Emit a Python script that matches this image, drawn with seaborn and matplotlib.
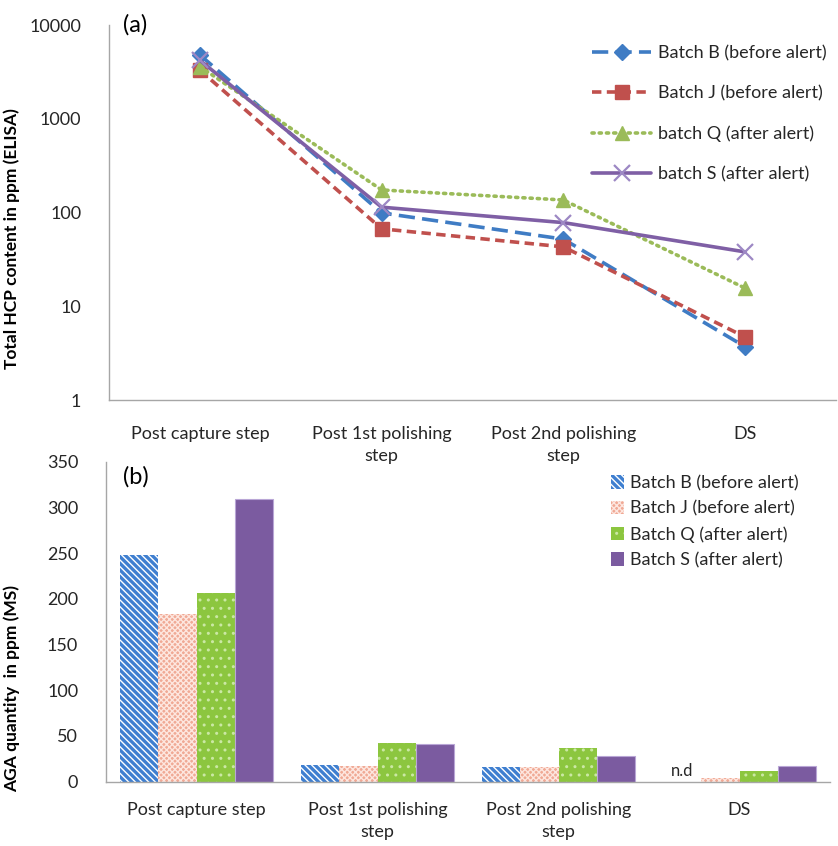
import matplotlib
matplotlib.use("Agg")
import matplotlib.pyplot as plt
import matplotlib.ticker as mticker
import numpy as np
import pandas as pd
import seaborn as sns

# ---- data ----
steps = ["Post capture step", "Post 1st polishing\nstep", "Post 2nd polishing\nstep", "DS"]
hcp_batches = ["Batch B (before alert)", "Batch J (before alert)",
               "batch Q (after alert)", "batch S (after alert)"]
hcp_B = [4800, 99, 52, 3.7]
hcp_J = [3300, 67, 43, 4.7]
hcp_Q = [3600, 174, 136, 15.6]
hcp_S = [4200, 114, 78, 38]

aga_batches = ["Batch B (before alert)", "Batch J (before alert)",
               "Batch Q (after alert)", "Batch S (after alert)"]
aga_B = [248, 18, 16, 0]      # DS not detected (n.d)
aga_J = [184, 17, 16, 4]
aga_Q = [206, 42, 37, 12]
aga_S = [310, 41, 28, 17]

y_ticks_hcp = [1, 10, 100, 1000, 10000]
y_ticks_aga = [0, 50, 100, 150, 200, 250, 300, 350]

# ---- styling ----
sns.set_theme(style="white")
plt.rcParams["font.family"] = ["Lato", "DejaVu Sans"]
plt.rcParams["hatch.linewidth"] = 1.0

line_colors = ["#3f7cc4", "#c0504d", "#9bbb59", "#7f5fa5"]
line_markers = ["D", "s", "^", "x"]
marker_sizes = [8.5, 10, 10, 12]
line_dashes = [(4.5, 2.0), (2.6, 1.5), (0.6, 1.4), None]
axis_grey = "#a6a6a6"
text_col = "#262626"

fig = plt.figure(figsize=(8.38, 8.46), dpi=100)
W, H = 838, 846
ax1 = fig.add_axes([109 / W, 1 - 400 / H, (836 - 109) / W, (400 - 25) / H])
ax2 = fig.add_axes([106 / W, 1 - 781.5 / H, (830 - 106) / W, (781.5 - 462) / H])
ax2.patch.set_alpha(0)

# ---- panel (a): HCP by ELISA ----
hcp_df = pd.DataFrame({
    "step": steps * 4,
    "hcp": hcp_B + hcp_J + hcp_Q + hcp_S,
    "batch": np.repeat(hcp_batches, len(steps)),
})
for i, name in enumerate(hcp_batches):
    sub = hcp_df[hcp_df["batch"] == name]
    sns.lineplot(data=sub, x="step", y="hcp", ax=ax1, sort=False,
                 color=line_colors[i], marker=line_markers[i],
                 markersize=marker_sizes[i], linewidth=2.6, label=name,
                 markeredgecolor=line_colors[i] if i != 3 else "#9d88c4",
                 markerfacecolor=line_colors[i],
                 markeredgewidth=1.6 if i == 3 else 1.0)
for ln, d in zip(ax1.lines, line_dashes):
    if d is not None:
        ln.set_dashes(d)
        if d[0] < 1:
            ln.set_dash_capstyle("round")

ax1.set_yscale("log")
ax1.set_ylim(1, 10000)
ax1.set_xlim(-0.5, 3.5)
ax1.yaxis.set_major_locator(mticker.FixedLocator(y_ticks_hcp))
ax1.yaxis.set_minor_locator(mticker.NullLocator())
ax1.yaxis.set_major_formatter(mticker.FuncFormatter(lambda v, p: f"{v:g}"))
ax1.set_xticks(range(len(steps)))
ax1.set_xticklabels(steps, linespacing=1.45)
ax1.set_xticks([-0.5, 0.5, 1.5, 2.5, 3.5], minor=True)
ax1.tick_params(axis="x", which="major", length=0, pad=18.5, labelsize=13, colors=text_col)
ax1.tick_params(axis="x", which="minor", length=6, width=1, color=axis_grey, direction="out")
ax1.tick_params(axis="y", which="major", length=4, width=1, color=axis_grey,
                direction="out", pad=16, labelsize=13, labelcolor=text_col)
ax1.set_xlabel("")
ax1.set_ylabel("Total HCP content in ppm (ELISA)", fontsize=12.5, fontweight="bold", color="black")
ax1.yaxis.set_label_coords(-0.122, 0.43)
for s in ["top", "right"]:
    ax1.spines[s].set_visible(False)
for s in ["left", "bottom"]:
    ax1.spines[s].set_color(axis_grey)
    ax1.spines[s].set_linewidth(1.0)
ax1.text(0.019, 1.0, "(a)", transform=ax1.transAxes, fontsize=17, va="center", ha="left",
         color="black")
leg1 = ax1.legend(loc="upper left", bbox_to_anchor=(0.664, 0.946), frameon=False,
                  fontsize=13, handlelength=3.3, handletextpad=0.35, labelspacing=1.33,
                  borderpad=0, borderaxespad=0)
for t in leg1.get_texts():
    t.set_color(text_col)

# ---- panel (b): AGA by MS ----
aga_df = pd.DataFrame({
    "step": steps * 4,
    "aga": aga_B + aga_J + aga_Q + aga_S,
    "batch": np.repeat(aga_batches, len(steps)),
})
sns.barplot(data=aga_df, x="step", y="aga", hue="batch", ax=ax2, width=0.84,
            palette=["#3f7fd0", "#f1ad9a", "#8cc63f", "#7b5ba0"], saturation=1,
            legend=True)

bar_styles = [
    dict(facecolor="#3f7fd0", edgecolor="white", hatch="\\\\\\\\\\", lw=0),
    dict(facecolor="#f0a995", edgecolor="#fde6df", hatch="xxxxxx", lw=0),
    dict(facecolor="#8cc63f", edgecolor="#cbe8a4", hatch="..", lw=0),
    dict(facecolor="#7b5ba0", edgecolor="#b9a6d6", hatch=None, lw=0.8),
]
for cont, st in zip(ax2.containers, bar_styles):
    for p in cont:
        p.set_facecolor(st["facecolor"])
        p.set_edgecolor(st["edgecolor"])
        p.set_linewidth(st["lw"])
        if st["hatch"]:
            p.set_hatch(st["hatch"])

# not-detected marker for batch B at DS
nd_x = ax2.containers[0][3].get_x() + ax2.containers[0][3].get_width() / 2
ax2.text(nd_x, 12, "n.d", ha="center", va="center", fontsize=12, color=text_col)

ax2.set_ylim(0, 350)
ax2.set_xlim(-0.5, 3.5)
ax2.set_yticks(y_ticks_aga)
ax2.set_xticks(range(len(steps)))
ax2.set_xticklabels(steps, linespacing=1.45)
ax2.tick_params(axis="y", length=0, pad=20, labelsize=13, labelcolor=text_col)
ax2.tick_params(axis="x", length=0, pad=15, labelsize=13, labelcolor=text_col)
ax2.set_xlabel("")
ax2.set_ylabel("AGA quantity  in ppm (MS)", fontsize=12.5, fontweight="bold", color="black")
ax2.yaxis.set_label_coords(-0.119, 0.29)
for s in ["top", "right"]:
    ax2.spines[s].set_visible(False)
for s in ["left", "bottom"]:
    ax2.spines[s].set_color(axis_grey)
    ax2.spines[s].set_linewidth(1.0)
ax2.text(0.023, 0.955, "(b)", transform=ax2.transAxes, fontsize=17, va="center", ha="left",
         color="black")

handles, labels = ax2.get_legend_handles_labels()
for h, st in zip(handles, bar_styles):
    h.set_facecolor(st["facecolor"])
    h.set_edgecolor(st["edgecolor"])
    h.set_linewidth(0)
    if st["hatch"]:
        h.set_hatch(st["hatch"])
leg2 = ax2.legend(handles, labels, loc="upper left", bbox_to_anchor=(0.697, 0.959),
                  frameon=False, fontsize=13, handlelength=0.75, handleheight=0.75,
                  handletextpad=0.35, labelspacing=0.52, borderpad=0, borderaxespad=0)
for t in leg2.get_texts():
    t.set_color(text_col)

fig.savefig("out.png", dpi=100)
